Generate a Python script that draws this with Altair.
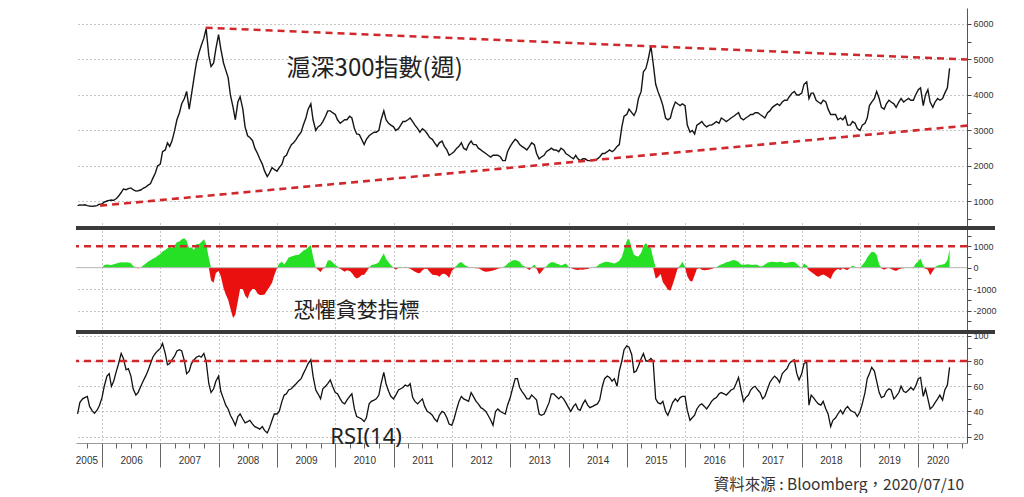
import altair as alt
import pandas as pd

# ---------------- data (semi-monthly readings, Aug 2005 - Jul 2020) ----------------
price = [
    880, 900, 895, 905, 880, 870, 860, 870, 880, 920,  # 2005 Aug-Dec
    930, 980, 1010, 1030, 1040, 1030, 1080, 1150, 1250, 1350, 1330, 1360,
    1380, 1330, 1290, 1300, 1320, 1370, 1400, 1450, 1500, 1650, 1800, 2000,  # 2006
    2050, 2400, 2450, 2650, 2550, 2700, 3000, 3300, 3500, 3750, 3900, 4100,
    3600, 4000, 4500, 4900, 5200, 5400, 5600, 5870, 5100, 4800, 4900, 5300,  # 2007
    5700, 5300, 4900, 4700, 4490, 4000, 3650, 3300, 3800, 3950, 3600, 3100,
    2850, 2800, 2710, 2500, 2350, 2200, 2050, 1860, 1700, 1800, 1950, 1900,  # 2008
    1850, 1950, 2050, 2250, 2300, 2450, 2600, 2650, 2750, 2850, 2950, 3150,
    3350, 3600, 3750, 3300, 3000, 3100, 3150, 3250, 3400, 3550, 3550, 3500,  # 2009
    3450, 3300, 3200, 3250, 3300, 3300, 3400, 3350, 3050, 2900, 2880, 2750,
    2600, 2750, 2850, 2900, 2950, 2950, 3000, 3300, 3550, 3300, 3200, 3150,  # 2010
    3100, 3000, 3050, 3150, 3250, 3250, 3300, 3350, 3250, 3150, 3050, 2950,
    3050, 3000, 2900, 2800, 2750, 2650, 2550, 2650, 2700, 2550, 2450, 2300,  # 2011
    2350, 2400, 2500, 2550, 2650, 2500, 2450, 2600, 2700, 2600, 2600, 2500,
    2450, 2400, 2350, 2300, 2250, 2300, 2300, 2300, 2250, 2150, 2150, 2400,  # 2012
    2550, 2650, 2750, 2700, 2600, 2550, 2500, 2450, 2550, 2650, 2600, 2350,
    2200, 2250, 2300, 2400, 2450, 2500, 2450, 2450, 2400, 2500, 2450, 2350,  # 2013
    2300, 2250, 2200, 2300, 2200, 2150, 2200, 2200, 2150, 2150, 2150, 2160,
    2200, 2250, 2350, 2350, 2400, 2450, 2400, 2450, 2550, 2600, 3100, 3400,  # 2014
    3450, 3600, 3500, 3420, 3550, 3900, 4100, 4650, 4750, 5000, 5380, 4900,
    4300, 4100, 3900, 3700, 3350, 3300, 3350, 3600, 3800, 3750, 3700, 3750,  # 2015
    3700, 3150, 2950, 3000, 2900, 3150, 3200, 3250, 3150, 3100, 3150, 3150,
    3200, 3250, 3200, 3350, 3300, 3250, 3300, 3350, 3400, 3450, 3500, 3350,  # 2016
    3300, 3350, 3400, 3450, 3450, 3500, 3500, 3450, 3400, 3350, 3500, 3550,
    3650, 3700, 3750, 3700, 3800, 3850, 3850, 3950, 4050, 4100, 4000, 4000,  # 2017
    4050, 4300, 4370, 3900, 4050, 4050, 3850, 3800, 3750, 3850, 3800, 3600,
    3450, 3450, 3450, 3300, 3350, 3300, 3400, 3150, 3150, 3250, 3200, 3050,  # 2018
    3000, 3150, 3200, 3350, 3700, 3800, 3900, 4100, 3900, 3650, 3600, 3750,
    3850, 3800, 3750, 3650, 3800, 3900, 3800, 3850, 3900, 3850, 3850, 4000,  # 2019
    4150, 4200, 3700, 4000, 4150, 3800, 3650, 3800, 3900, 3850, 3900, 4050,
    4200, 4750,  # 2020 Jan-Jul
]

fear_greed = [
    0, 0, 0, 0, 0, 0, 0, 0, 0, 0,  # 2005
    0, 120, 150, 140, 120, 160, 200, 230, 250, 240, 250, 240,
    210, 80, 20, -30, 0, 100, 180, 280, 350, 420, 480, 560,  # 2006
    640, 750, 820, 900, 980, 900, 1050, 1180, 1220, 1320, 1370, 1250,
    900, 950, 820, 1100, 1100, 1200, 1330, 1100, 450, -600, -700, -250,  # 2007
    -150, -400, -950, -1250, -1500, -1900, -2350, -2200, -1550, -1000, -1000, -1300,
    -1450, -1150, -1000, -1000, -1200, -1280, -1280, -1250, -1050, -900, -700, -350,  # 2008
    -30, 200, 280, 150, 300, 480, 520, 560, 590, 590, 700, 800,
    850, 950, 1060, 500, 0, -100, -200, -50, 50, 330, 350, 250,  # 2009
    120, 60, -50, -120, -190, -120, -150, -250, -420, -500, -450, -340,
    -330, -190, 0, 120, 150, 180, 250, 450, 670, 400, 250, 120,  # 2010
    0, -100, 30, 40, 0, 40, -20, -50, -120, -190, -250, -260,
    -120, -50, -60, -190, -330, -340, -350, -420, -300, -280, -350, -480,  # 2011
    -150, -40, 100, 220, 260, 160, 80, 30, -20, -10, -30, -30,
    -80, -150, -190, -180, -160, -130, -100, -50, -20, 20, 80, 180,  # 2012
    280, 340, 360, 320, 280, 120, 50, -30, -110, 20, 150, -50,
    -310, -200, -30, 60, 200, 250, 250, 200, 160, 100, 150, 200,  # 2013
    50, -20, -60, -100, -110, -80, -100, -70, -60, -20, 0, 20,
    80, 170, 220, 260, 280, 250, 220, 200, 250, 320, 500, 850,  # 2014
    1250, 1350, 900, 600, 540, 520, 700, 1000, 1150, 1000, 900, 450,
    -500, -450, -300, -680, -850, -1020, -1080, -800, -400, -50, 100, 280,  # 2015
    50, -400, -620, -650, -350, -60, -30, -100, -120, -110, -90, -60,
    -20, 20, 100, 150, 200, 250, 280, 320, 360, 330, 260, 160,  # 2016
    125, 150, 160, 140, 130, 150, 120, 60, 80, 150, 230, 260,
    280, 260, 250, 280, 260, 220, 230, 250, 280, 260, 180, 80,  # 2017
    0, 200, 100, -120, -200, -270, -380, -420, -350, -320, -380, -450,
    -530, -280, -120, -60, -110, -30, -80, -110, 20, 90, 40, 0,  # 2018
    0, 120, 280, 480, 620, 740, 720, 600, 150, -30, -100, -40,
    -20, -60, -120, -150, -70, -40, -30, 0, 30, 0, -30, 180,  # 2019
    300, 420, 100, -50, -100, -350, -150, 30, 100, 120, 150, 180,
    350, 850,  # 2020
]

rsi = [
    38, 47, 50, 51, 52, 44, 40.5, 38.5, 41, 44.5,  # 2005
    51, 60, 68, 70, 60, 64, 72, 78, 86, 82, 73, 74,
    68, 58, 53, 55, 60, 64, 68, 72, 78, 83, 86, 88,  # 2006
    90, 94, 86, 77, 78, 81, 84, 88, 89, 88, 80, 70,
    72, 78, 81, 83, 84, 83, 86, 80, 62, 55, 58, 64,  # 2007
    68, 56, 50, 45, 42, 37, 33, 29, 36, 38, 34, 31,
    32, 33, 30, 28, 27, 26, 28, 25, 23, 27, 33, 38,  # 2008
    38, 40, 48, 53, 54, 57, 58, 60, 62, 64, 66, 70,
    74, 78, 81, 68, 57, 54, 50, 58, 60, 62, 65, 60,  # 2009
    55, 54, 50, 47, 46, 49, 52, 54, 42, 36, 35, 34,
    32, 35, 46, 48, 49, 50, 53, 62, 71, 62, 56, 52,  # 2010
    50, 53, 57, 58, 59, 61, 60, 62, 51, 48, 46, 48,
    50, 44, 40, 39, 37, 34, 32, 37, 40, 39, 35, 30,  # 2011
    29, 34, 42, 48, 52, 50, 49, 48, 55, 52, 48, 46,
    43, 42, 40, 37, 33, 29, 40, 42, 40, 39, 38, 45,  # 2012
    51, 58, 66, 66, 59, 56, 53, 50, 50, 53, 51, 49,
    38, 37, 38, 42, 47, 54, 54, 52, 50, 52, 50, 47,  # 2013
    43, 40, 44, 46, 42, 41, 46, 49, 45, 43, 44, 45,
    46, 49, 60, 66, 68, 67, 64, 66, 60, 72, 80, 89,  # 2014
    92, 91, 85, 71, 72, 76, 82, 86, 80, 80, 82, 80,
    50, 47, 46, 48, 40, 37, 42, 47, 50, 48, 51, 52,  # 2015
    52, 41, 33, 35, 37, 42, 45, 46, 44, 42, 45, 48,
    50, 51, 54, 55, 54, 53, 55, 57, 58, 62, 67, 58,  # 2016
    48, 51, 53, 57, 59, 60, 57, 55, 50, 52, 58, 63,
    66, 68, 66, 63, 70, 72, 74, 78, 80, 81, 70, 65,  # 2017
    70, 78, 79, 45, 53, 51, 48, 46, 45, 48, 42, 38,
    28, 33, 35, 38, 41, 38, 42, 44, 41, 40, 39, 36,  # 2018
    40, 46, 55, 66, 70, 75, 72, 64, 55, 51, 52, 56,
    58, 57, 50, 52, 55, 60, 56, 55, 57, 59, 57, 60,  # 2019
    66, 67, 52, 58, 50, 42, 44, 47, 50, 53, 49, 57,
    61, 75,  # 2020
]

# trend lines on the index panel (start / end points)
trend_start_date = ["2007-10-12", "2005-12-20"]
trend_start_value = [5895, 880]
trend_end_date = ["2020-11-01", "2020-11-01"]
trend_end_value = [5000, 3135]

# reference levels
fg_level = [1000]
rsi_level = [80]

# year label anchors on the time axis
year_label_dates = ["2005-09-25"] + [f"{y}-07-02" for y in range(2006, 2020)] + ["2020-05-01"]

# panel annotations
panel_titles = ["滬深300指數(週)", "恐懼貪婪指標", "RSI(14)"]
panel_title_dates = ["2010-09-05", "2010-05-15", "2010-07-13"]
panel_title_values = [4745, -2000, 20]

source_text = "資料來源 : Bloomberg，2020/07/10"

# ---------------- tables ----------------
n = len(price)
assert len(rsi) == n and len(fear_greed) == n
dates = pd.date_range("2005-08-01", periods=n, freq="SMS")
df = pd.DataFrame({"date": dates, "price": price, "rsi": rsi, "fg": fear_greed})
df["fg_pos"] = df["fg"].clip(lower=0)
df["fg_neg"] = df["fg"].clip(upper=0)

trend_df = pd.DataFrame({
    "d1": pd.to_datetime(trend_start_date), "v1": trend_start_value,
    "d2": pd.to_datetime(trend_end_date), "v2": trend_end_value,
})
label_df = pd.DataFrame({"date": pd.to_datetime(year_label_dates)})


def dt(s):
    t = pd.Timestamp(s)
    return alt.DateTime(year=t.year, month=t.month, date=t.day)


year_starts = [alt.DateTime(year=y, month=1, date=1) for y in range(2006, 2021)]
quarter_ticks = [alt.DateTime(year=y, month=m, date=1)
                 for y in range(2005, 2021) for m in (1, 4, 7, 10)
                 if (2005, 7) < (y, m) <= (2020, 10)]
label_values = [dt(s) for s in year_label_dates]

# ---------------- layout ----------------
W = 891
H_TOP, H_MID, H_BOT = 220, 104, 111
H = H_TOP + H_MID + H_BOT

xscale = alt.Scale(domain=[alt.DateTime(year=2005, month=7, date=22),
                           alt.DateTime(year=2020, month=11, date=1)])


def ysc(domain, top, bottom):
    return alt.Scale(domain=domain, range=[bottom, top], nice=False, zero=False)


TOP_SC = ysc([250, 6450], 0, H_TOP)
MID_SC = ysc([-3000, 1850], H_TOP, H_TOP + H_MID)
BOT_SC = ysc([15, 103], H_TOP + H_MID, H)

GRID = dict(grid=True, gridDash=[1, 3], gridColor="#8a8a8a", gridWidth=1)
RED = "#d0282c"
CJK = "Noto Sans CJK TC"


def yaxis(values, label_test, grid_test):
    return alt.Axis(
        orient="right", values=values, title=None,
        labelExpr=f"({label_test}) ? '' + datum.value : ''",
        labelOverlap=False, labelFontSize=9, labelColor="#333",
        labelFont="Liberation Sans", labelPadding=2,
        tickSize=4, tickColor="#444", domainColor="#555",
        gridOpacity={"condition": {"test": grid_test, "value": 1}, "value": 0},
        **GRID,
    )


def xnone(field="date"):
    return alt.X(f"{field}:T", scale=xscale, axis=None)


def text_layer(i, scale, font, size):
    tdf = pd.DataFrame({"t": [panel_titles[i]], "d": pd.to_datetime([panel_title_dates[i]]),
                        "v": [panel_title_values[i]]})
    return alt.Chart(tdf).mark_text(font=font, fontSize=size, color="#222",
                                    align="center", baseline="middle").encode(
        x=xnone("d"), y=alt.Y("v:Q", scale=scale, axis=None), text="t:N")


# ---- top panel: index ----
price_line = alt.Chart(df).mark_line(color="#161616", strokeWidth=1.4).encode(
    x=alt.X("date:T", scale=xscale,
            axis=alt.Axis(orient="bottom", values=year_starts, labels=False, tickSize=24,
                          tickColor="#666", domainColor="#999", title=None, **GRID)),
    y=alt.Y("price:Q", scale=TOP_SC,
            axis=yaxis(list(range(500, 6001, 500)), "datum.value % 1000 == 0",
                       "datum.value % 1000 == 0")),
)
trend = alt.Chart(trend_df).mark_rule(color=RED, strokeWidth=2.6, strokeDash=[7, 5]).encode(
    x=alt.X("d1:T", scale=xscale, axis=None),
    y=alt.Y("v1:Q", scale=TOP_SC, axis=None),
    x2="d2:T", y2="v2:Q")
top_text = text_layer(0, TOP_SC, CJK, 24)

# ---- middle panel: fear / greed ----
fg_pos = alt.Chart(df).mark_area(color="#25e025", interpolate="linear").encode(
    x=xnone(),
    y=alt.Y("fg_pos:Q", scale=MID_SC,
            axis=yaxis(list(range(-2500, 1501, 500)), "datum.value % 1000 == 0",
                       "datum.value % 1000 == 0 && datum.value < 0")),
    y2=alt.datum(0),
)
fg_neg = alt.Chart(df).mark_area(color="#ea1010", interpolate="linear").encode(
    x=xnone(), y=alt.Y("fg_neg:Q", scale=MID_SC, axis=None), y2=alt.datum(0))
zero_rule = alt.Chart(pd.DataFrame({"v": [0]})).mark_rule(color="#b5b5b5", strokeWidth=1).encode(
    y=alt.Y("v:Q", scale=MID_SC, axis=None))
fg_line = alt.Chart(pd.DataFrame({"v": fg_level})).mark_rule(
    color=RED, strokeWidth=2.4, strokeDash=[7, 5]).encode(
    y=alt.Y("v:Q", scale=MID_SC, axis=None))
mid_text = text_layer(1, MID_SC, CJK, 21)

# ---- bottom panel: RSI ----
rsi_line = alt.Chart(df).mark_line(color="#111", strokeWidth=1.3).encode(
    x=xnone(),
    y=alt.Y("rsi:Q", scale=BOT_SC,
            axis=yaxis(list(range(20, 101, 10)), "datum.value % 20 == 0",
                       "datum.value % 20 == 0")),
)
rsi_line80 = alt.Chart(pd.DataFrame({"v": rsi_level})).mark_rule(
    color=RED, strokeWidth=2.4, strokeDash=[7, 5]).encode(
    y=alt.Y("v:Q", scale=BOT_SC, axis=None))
bot_text = text_layer(2, BOT_SC, "Noto Sans", 22)

# ---- time axis extras ----
q_ticks = alt.Chart(label_df).mark_point(opacity=0).encode(
    x=alt.X("date:T", scale=xscale,
            axis=alt.Axis(orient="bottom", values=quarter_ticks, labels=False, tickSize=5,
                          tickColor="#666", grid=False, domain=False, title=None)))
year_labels = alt.Chart(label_df).mark_point(opacity=0).encode(
    x=alt.X("date:T", scale=xscale,
            axis=alt.Axis(orient="bottom", values=label_values, format="%Y", tickSize=0,
                          labelPadding=12, labelFontSize=10, labelColor="#333",
                          labelFont="Liberation Sans", grid=False, domain=False, title=None)))

# ---- panel separators ----
sep_df = pd.DataFrame({"k": [0]})
sep1 = alt.Chart(sep_df).mark_rule(color="#3a3a3a", strokeWidth=4).encode(
    x=alt.value(0), x2=alt.value(W + 28), y=alt.value(H_TOP))
sep2 = alt.Chart(sep_df).mark_rule(color="#3a3a3a", strokeWidth=4).encode(
    x=alt.value(0), x2=alt.value(W + 28), y=alt.value(H_TOP + H_MID))

chart = alt.layer(
    price_line, trend, top_text,
    fg_pos, fg_neg, zero_rule, fg_line, mid_text,
    rsi_line, rsi_line80, bot_text,
    q_ticks, year_labels,
    sep1, sep2,
).resolve_scale(y="independent").resolve_axis(x="independent", y="independent").properties(
    width=W, height=H,
    padding={"left": 66, "top": 0, "right": 5, "bottom": 0},
    title=alt.TitleParams(text=source_text, orient="bottom", anchor="end", frame="group",
                          font=CJK, fontSize=15.5, fontWeight="normal", color="#333",
                          offset=10, dx=-3),
).configure_view(stroke=None)

chart.save("out.html", embed_options={"renderer": "svg", "actions": False})
